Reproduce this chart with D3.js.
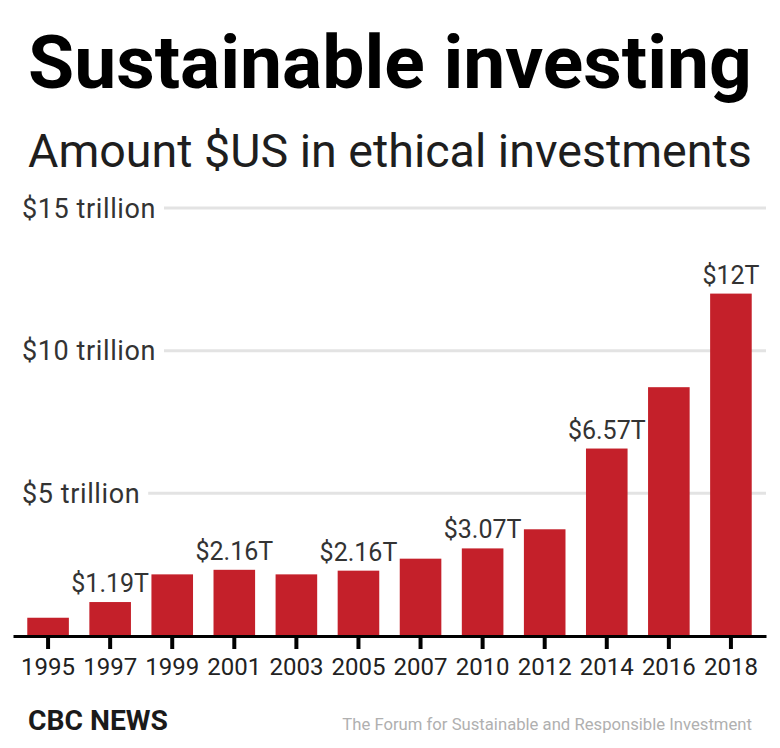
<!DOCTYPE html>
<html>
<head>
<meta charset="utf-8">
<script src="https://cdn.jsdelivr.net/npm/d3@7"></script>
<style>
  body { margin: 0; background: #fff; }
  svg { display: block; font-family: Roboto, "Noto Sans", sans-serif; }
</style>
</head>
<body>
<div id="chart"></div>
<script>
// data (trillions of US dollars)
const years = ["1995", "1997", "1999", "2001", "2003", "2005", "2007", "2010", "2012", "2014", "2016", "2018"];
const amounts = [0.64, 1.19, 2.16, 2.32, 2.16, 2.29, 2.71, 3.07, 3.74, 6.57, 8.72, 12.0];

// value labels shown above some bars, as they sit in the picture
const labelYears = ["1997", "2001", "2005", "2010", "2014", "2018"];
const labelTexts = ["$1.19T", "$2.16T", "$2.16T", "$3.07T", "$6.57T", "$12T"];

const gridValues = [5, 10, 15];
const gridLabels = ["$5 trillion", "$10 trillion", "$15 trillion"];

const titleText = "Sustainable investing";
const subtitleText = "Amount $US in ethical investments";
const brandText = "CBC NEWS";
const sourceText = "The Forum for Sustainable and Responsible Investment";

const width = 780, height = 748;

const svg = d3.select("#chart")
  .append("svg")
    .attr("width", width)
    .attr("height", height);

// scale a text's font size so that it fills a given width
function fitWidth(sel, target) {
  const size = parseFloat(sel.attr("font-size"));
  const w = sel.node().getComputedTextLength();
  sel.attr("font-size", size * target / w);
}

// titles
svg.append("text")
  .attr("x", 28).attr("y", 88)
  .attr("font-size", 75)
  .attr("font-weight", 700)
  .attr("fill", "#000")
  .text(titleText)
  .call(fitWidth, 724);

svg.append("text")
  .attr("x", 28).attr("y", 167)
  .attr("font-size", 46)
  .attr("fill", "#1e1e1e")
  .text(subtitleText)
  .call(fitWidth, 724);

// scales
const x = d3.scaleBand()
  .domain(years)
  .range([13, 766])
  .paddingInner(0.33)
  .paddingOuter(0.23);

const y = d3.scaleLinear()
  .domain([0, 15])
  .range([636, 208]);

// gridlines with their labels
const grid = svg.append("g").selectAll("g")
  .data(gridValues)
  .join("g")
    .attr("transform", d => `translate(0,${y(d)})`);

grid.append("text")
  .attr("x", 22)
  .attr("dy", "0.36em")
  .attr("font-size", 27)
  .attr("letter-spacing", 0.6)
  .attr("fill", "#333")
  .text((d, i) => gridLabels[i]);

grid.each(function() {
  const g = d3.select(this);
  const textEnd = 22 + g.select("text").node().getComputedTextLength();
  g.insert("line", "text")
    .attr("x1", textEnd + 8)
    .attr("x2", 766)
    .attr("stroke", "#e3e3e3")
    .attr("stroke-width", 3);
});

// bars
svg.append("g")
  .selectAll("rect")
  .data(years)
  .join("rect")
    .attr("x", d => x(d))
    .attr("y", (d, i) => y(amounts[i]))
    .attr("width", x.bandwidth())
    .attr("height", (d, i) => y(0) - y(amounts[i]))
    .attr("fill", "#c4202a");

// value labels
svg.append("g")
  .selectAll("text")
  .data(labelYears)
  .join("text")
    .attr("x", d => x(d) + x.bandwidth() / 2)
    .attr("y", d => y(amounts[years.indexOf(d)]) - 10)
    .attr("text-anchor", "middle")
    .attr("font-size", 25)
    .attr("fill", "#333")
    .text((d, i) => labelTexts[i]);

// x axis
const xAxis = svg.append("g")
  .attr("transform", `translate(0,${y(0)})`)
  .call(d3.axisBottom(x).tickSize(13).tickSizeOuter(0).tickPadding(9));

xAxis.select(".domain")
  .attr("stroke", "#000")
  .attr("stroke-width", 3);
xAxis.selectAll(".tick line")
  .attr("stroke", "#000")
  .attr("stroke-width", 4);
xAxis.selectAll(".tick text")
  .attr("font-family", "Roboto, sans-serif")
  .attr("font-size", 24)
  .attr("fill", "#222");

// footer
svg.append("text")
  .attr("x", 28).attr("y", 730)
  .attr("font-size", 26)
  .attr("font-weight", 700)
  .attr("fill", "#1a1a1a")
  .text(brandText)
  .call(fitWidth, 140);

svg.append("text")
  .attr("x", 752).attr("y", 730)
  .attr("text-anchor", "end")
  .attr("font-size", 16)
  .attr("fill", "#b0b0b0")
  .text(sourceText)
  .call(fitWidth, 410);
</script>
</body>
</html>
